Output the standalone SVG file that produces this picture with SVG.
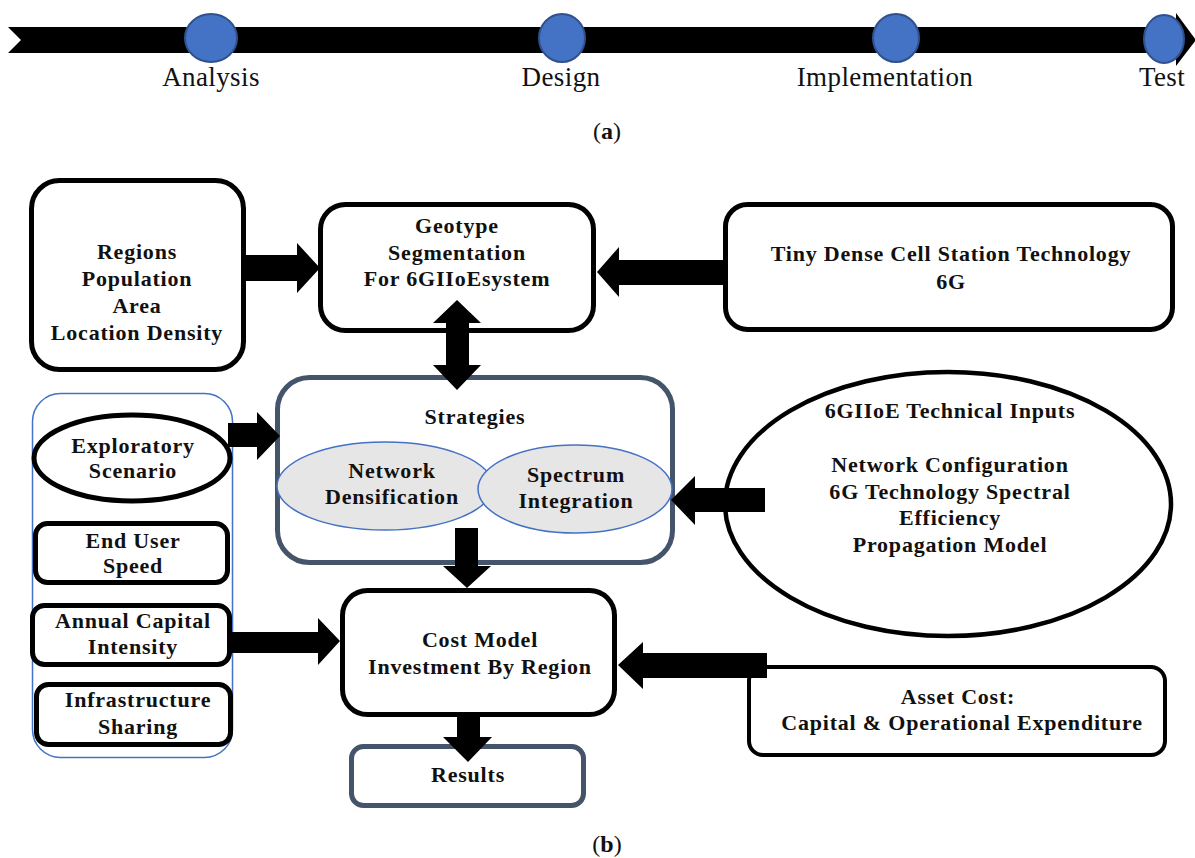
<svg xmlns="http://www.w3.org/2000/svg" width="1195" height="858" viewBox="0 0 1195 858">
<style>
.t{font-family:"Liberation Serif","Times New Roman",serif;font-size:22px;font-weight:bold;letter-spacing:0.8px;text-anchor:middle;fill:#111}
.tl{font-family:"Liberation Serif","Times New Roman",serif;font-size:27px;letter-spacing:0.4px;text-anchor:middle;fill:#111}
.cap{font-family:"Liberation Serif","Times New Roman",serif;font-size:24px;text-anchor:middle;fill:#111}
.box{fill:#fff;stroke:#000;stroke-width:5}
.slate{fill:#fff;stroke:#44546A;stroke-width:5}
.dot{fill:#4472C4;stroke:#2F528F;stroke-width:2}
.oval{fill:#E7E6E6;stroke:#4472C4;stroke-width:1.5}
.arr{fill:#000}
</style>
<rect width="1195" height="858" fill="#fff"/>

<g id="timeline">
<polygon class="arr" points="8,27 1176,27 1176,13 1196,40 1176,66 1176,53 8,53 21,40"/>
<ellipse class="dot" cx="211" cy="38" rx="26" ry="24"/>
<ellipse class="dot" cx="562" cy="38" rx="23" ry="24"/>
<ellipse class="dot" cx="896" cy="38" rx="23" ry="24"/>
<ellipse class="dot" cx="1164" cy="39" rx="20" ry="24"/>
<text class="tl" x="211" y="86">Analysis</text>
<text class="tl" x="561" y="86">Design</text>
<text class="tl" x="885" y="86">Implementation</text>
<text class="tl" x="1162" y="86">Test</text>
<text class="cap" x="607" y="139">(<tspan font-weight="bold">a</tspan>)</text>
</g>

<g id="container">
<rect x="32.5" y="393.5" width="200" height="364" rx="28" fill="none" stroke="#4472C4" stroke-width="1.5"/>
</g>

<g id="regions">
<rect class="box" x="31.5" y="180.5" width="212" height="189" rx="28"/>
<text class="t" x="137" y="259">Regions</text>
<text class="t" x="137" y="286">Population</text>
<text class="t" x="137" y="313">Area</text>
<text class="t" x="137" y="340">Location Density</text>
</g>

<g id="geotype">
<rect class="box" x="320.5" y="204.5" width="273" height="126" rx="25"/>
<text class="t" x="457" y="233">Geotype</text>
<text class="t" x="457" y="260">Segmentation</text>
<text class="t" x="457" y="286">For 6GIIoEsystem</text>
</g>

<g id="tiny">
<rect class="box" x="725.5" y="204.5" width="447" height="125" rx="22"/>
<text class="t" x="951" y="261">Tiny Dense Cell Station Technology</text>
<text class="t" x="951" y="289">6G</text>
</g>

<g id="strategies">
<rect class="slate" x="277.5" y="377.5" width="395" height="185" rx="32"/>
<text class="t" x="475" y="424">Strategies</text>
<ellipse class="oval" cx="385" cy="486" rx="108" ry="44"/>
<ellipse class="oval" cx="575" cy="489" rx="97" ry="44"/>
<text class="t" x="392" y="478">Network</text>
<text class="t" x="392" y="504">Densification</text>
<text class="t" x="576" y="482">Spectrum</text>
<text class="t" x="576" y="508">Integration</text>
</g>

<g id="technical">
<ellipse cx="948" cy="504" rx="223" ry="132" fill="#fff" stroke="#000" stroke-width="4.5"/>
<text class="t" x="950" y="418">6GIIoE Technical Inputs</text>
<text class="t" x="950" y="472">Network Configuration</text>
<text class="t" x="950" y="499">6G Technology Spectral</text>
<text class="t" x="950" y="525">Efficiency</text>
<text class="t" x="950" y="552">Propagation Model</text>
</g>

<g id="exploratory">
<ellipse cx="132" cy="458" rx="98" ry="43" fill="#fff" stroke="#000" stroke-width="5"/>
<text class="t" x="133" y="453">Exploratory</text>
<text class="t" x="133" y="478">Scenario</text>
</g>

<g id="enduser">
<rect class="box" x="35.5" y="523.5" width="192" height="59" rx="12"/>
<text class="t" x="133" y="548">End User</text>
<text class="t" x="133" y="573">Speed</text>
</g>

<g id="annual">
<rect class="box" x="32.5" y="605.5" width="197" height="59" rx="12"/>
<text class="t" x="133" y="628">Annual Capital</text>
<text class="t" x="133" y="654">Intensity</text>
</g>

<g id="infra">
<rect class="box" x="36.5" y="684.5" width="194" height="60" rx="12"/>
<text class="t" x="138" y="707">Infrastructure</text>
<text class="t" x="138" y="734">Sharing</text>
</g>

<g id="cost">
<rect class="box" x="342.5" y="590.5" width="272" height="124" rx="25"/>
<text class="t" x="480" y="647">Cost Model</text>
<text class="t" x="480" y="674">Investment By Region</text>
</g>

<g id="asset">
<rect x="749" y="667" width="416" height="88" rx="14" fill="#fff" stroke="#000" stroke-width="4"/>
<text class="t" x="958" y="704">Asset Cost:</text>
<text class="t" x="962" y="730">Capital &amp; Operational Expenditure</text>
</g>

<g id="results">
<rect class="slate" x="351.5" y="746.5" width="232" height="59" rx="12"/>
<text class="t" x="468" y="782">Results</text>
</g>

<g id="connectors">
<polygon class="arr" points="246,255 297,255 297,243 320,268 297,293 297,281 246,281"/>
<polygon class="arr" points="724,260 619,260 619,247 597,272 619,297 619,285 724,285"/>
<polygon class="arr" points="457,300 481,323 469,323 469,365 481,365 457,390 433,365 446,365 446,323 433,323"/>
<polygon class="arr" points="228,423 257,423 257,412 280,436 257,460 257,447 228,447"/>
<polygon class="arr" points="765,488 695,488 695,476 671,500 695,525 695,512 765,512"/>
<polygon class="arr" points="455,528 478,528 478,566 491,566 467,588 443,566 455,566"/>
<polygon class="arr" points="232,632 318,632 318,618 340,641 318,665 318,653 232,653"/>
<polygon class="arr" points="767,653 643,653 643,642 618,665 643,689 643,678 767,678"/>
<polygon class="arr" points="457,714 480,714 480,737 492,737 468,762 443,737 457,737"/>
</g>

<text class="cap" x="607" y="852">(<tspan font-weight="bold">b</tspan>)</text>
</svg>
